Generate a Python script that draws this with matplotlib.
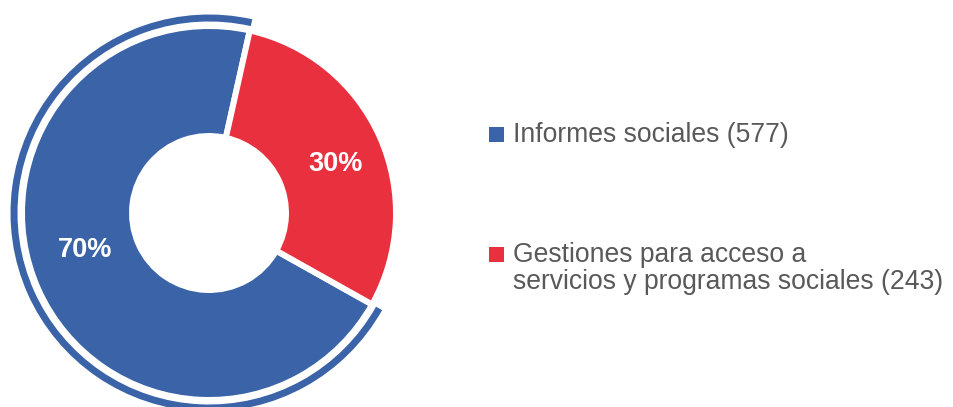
import matplotlib.pyplot as plt
from matplotlib.patches import Wedge, Rectangle

plt.rcParams['font.family'] = ['Liberation Sans', 'DejaVu Sans']

labels = [["Informes sociales (577)"],
          ["Gestiones para acceso a", "servicios y programas sociales (243)"]]
counts = [577, 243]
colors = ['#3B64A8', '#E8303F']

W, H = 954, 407
fig = plt.figure(figsize=(W / 100, H / 100), dpi=100)
ax = fig.add_axes([0, 0, 1, 1])

cx, cy = 209, 194
wedges, _, autotexts = ax.pie(counts, colors=colors, center=(cx, cy), radius=187,
                              startangle=77.4, autopct='%1.0f%%', pctdistance=0.71,
                              wedgeprops=dict(width=110, edgecolor='white', linewidth=4.3),
                              textprops=dict(color='white', fontsize=19.5, fontweight='bold'))
ax.set_xlim(0, W)
ax.set_ylim(0, H)
ax.set_aspect('equal')
ax.axis('off')

# percent labels sit a little off the mid-angle in the original
for t, pos in zip(autotexts, [(85, 160), (336, 246)]):
    t.set_position(pos)
    t.set_va('center_baseline')

# thin outer ring following the blue slice
blue = wedges[0]
ax.add_patch(Wedge((cx, cy), 198.5, blue.theta1, blue.theta2, width=7, color=colors[0], lw=0))

# legend drawn by hand
tx = 513
baselines = [142, 262]
line_gap = 27
for lines, col, y in zip(labels, colors, baselines):
    ax.add_patch(Rectangle((489, H - y), 15, 15, color=col, lw=0))
    for i, line in enumerate(lines):
        ax.text(tx, H - y - i * line_gap, line, fontsize=19.1, color='#595959',
                va='baseline', ha='left')

fig.savefig('out.png', dpi=100)
